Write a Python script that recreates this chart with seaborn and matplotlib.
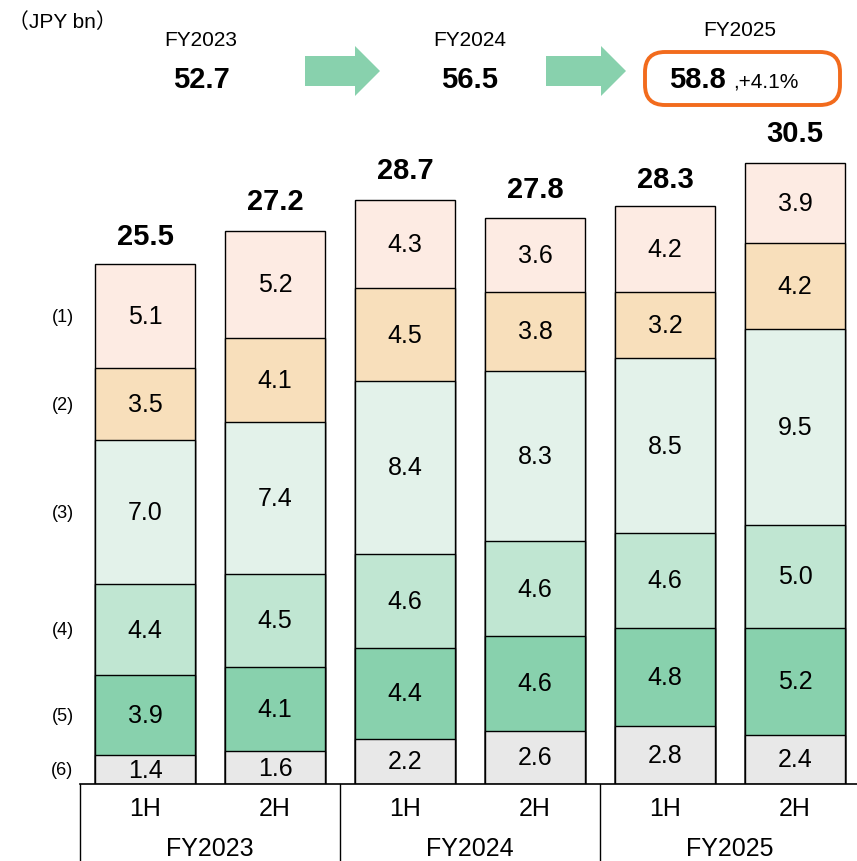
import numpy as np
import pandas as pd
import matplotlib
matplotlib.use("Agg")
import matplotlib.pyplot as plt
import seaborn as sns
from matplotlib.patches import Polygon, FancyBboxPatch

# data (bottom segment first)
years = ["FY2023", "FY2024", "FY2025"]
halves = ["1H", "2H"]
seg_names = ["(6)", "(5)", "(4)", "(3)", "(2)", "(1)"]
seg6 = [1.4, 1.6, 2.2, 2.6, 2.8, 2.4]
seg5 = [3.9, 4.1, 4.4, 4.6, 4.8, 5.2]
seg4 = [4.4, 4.5, 4.6, 4.6, 4.6, 5.0]
seg3 = [7.0, 7.4, 8.4, 8.3, 8.5, 9.5]
seg2 = [3.5, 4.1, 4.5, 3.8, 3.2, 4.2]
seg1 = [5.1, 5.2, 4.3, 3.6, 4.2, 3.9]
totals = [25.5, 27.2, 28.7, 27.8, 28.3, 30.5]
annual = ["52.7", "56.5", "58.8"]
growth = ",+4.1%"

colors = ["#E8E8E8", "#88D1AD", "#C0E6D2", "#E3F2EA", "#F8DFBB", "#FDEBE3"]

cats = [f"{y} {h}" for y in years for h in halves]
segs = [seg6, seg5, seg4, seg3, seg2, seg1]
cum = np.cumsum(np.array(segs), axis=0)

sns.set_style("white")
plt.rcParams["font.family"] = "Liberation Sans"
plt.rcParams["text.color"] = "black"
plt.rcParams["xtick.color"] = "black"

fig = plt.figure(figsize=(8.57, 8.62), dpi=100)
ax = fig.add_axes([80 / 857, 77 / 862, 780 / 857, 685 / 862])

# stacked bars: draw cumulative heights, tallest first
for i in range(len(segs) - 1, -1, -1):
    df = pd.DataFrame({"cat": cats, "val": cum[i]})
    sns.barplot(data=df, x="cat", y="val", order=cats, color=colors[i],
                width=0.77, edgecolor="black", linewidth=1.0, saturation=1, ax=ax)

# segment labels
for i, s in enumerate(segs):
    for j, v in enumerate(s):
        ax.text(j, cum[i][j] - v / 2, f"{v:.1f}", ha="center", va="center", fontsize=18)

# totals
for j, t in enumerate(totals):
    ax.text(j, t + 0.45, f"{t:.1f}", ha="center", va="bottom", fontsize=21, fontweight="bold")

# series markers on the left
for i, name in enumerate(seg_names):
    ax.text(-0.635, cum[i][0] - segs[i][0] / 2, name, ha="center", va="center",
            fontsize=13, clip_on=False)

ax.set_xlim(-0.5, 5.5)
ax.set_ylim(0, 33.3)
ax.set_xlabel("")
ax.set_ylabel("")
ax.set_yticks([])
ax.set_xticks(range(len(cats)))
ax.set_xticklabels([c.split()[1] for c in cats], fontsize=18, color="black")
ax.tick_params(axis="x", length=0, pad=9)
for sp in ["left", "top", "right"]:
    ax.spines[sp].set_visible(False)
ax.spines["bottom"].set_linewidth(1.2)
ax.spines["bottom"].set_color("black")

# grouped category axis
trans = ax.get_xaxis_transform()
for xb in [-0.5, 1.5, 3.5, 5.5]:
    ax.plot([xb, xb], [0, -0.12], transform=trans, color="black", lw=1.0, clip_on=False)
for k, y in enumerate(years):
    ax.text(2 * k + 0.5, -0.093, y, transform=trans, ha="center", va="center", fontsize=18)

# header overlay in pixel coordinates
ov = fig.add_axes([0, 0, 1, 1], zorder=5)
ov.set_xlim(0, 857)
ov.set_ylim(862, 0)
ov.axis("off")
ov.patch.set_alpha(0)

ov.text(8, 22, "（JPY bn）", ha="left", va="center", fontsize=15,
        family=["Liberation Sans", "Noto Sans CJK JP"])
hx = [201, 470, 740]
hy = [40, 40, 30]
for k, y in enumerate(years):
    ov.text(hx[k], hy[k], y, ha="center", va="center", fontsize=15)
ov.text(hx[0], 80, annual[0], ha="center", va="center", fontsize=21, fontweight="bold")
ov.text(hx[1], 80, annual[1], ha="center", va="center", fontsize=21, fontweight="bold")
ov.text(697, 80, annual[2], ha="center", va="center", fontsize=21, fontweight="bold")
ov.text(733, 82, growth, ha="left", va="center", fontsize=15)

box = FancyBboxPatch((645, 53), 195, 53, boxstyle="round,pad=0,rounding_size=20",
                     fc="none", ec="#F26B1D", lw=2.8)
ov.add_patch(box)

for x0, x1 in [(305, 380), (546, 626)]:
    xh = x1 - 25
    pts = [(x0, 57), (xh, 57), (xh, 47), (x1, 72), (xh, 97), (xh, 87), (x0, 87)]
    ov.add_patch(Polygon(pts, closed=True, fc="#88D1AD", ec="none"))

fig.savefig("out.png", dpi=100)
